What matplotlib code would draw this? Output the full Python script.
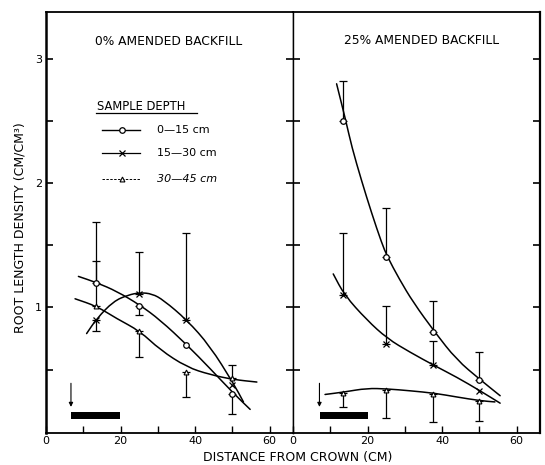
import numpy as np
import matplotlib
matplotlib.use("Agg")
import matplotlib.pyplot as plt
from matplotlib.path import Path
from matplotlib.patches import PathPatch

nan = np.nan

# ---------------- data ----------------
positions = [13.5, 25, 37.5, 50]
depth_labels = ["0\u201415 cm", "15\u201430 cm", "30\u201445 cm"]
panel_titles = ["0% AMENDED BACKFILL", "25% AMENDED BACKFILL"]

# 0 % amended backfill (left)
left_circle = [1.20, 1.01, 0.70, 0.30]
left_cross = [0.90, 1.11, 0.90, 0.38]
left_tri = [1.01, 0.81, 0.48, 0.43]
left_circle_hi = [1.69, nan, nan, nan]
left_circle_lo = [nan, 0.94, nan, 0.14]
left_cross_hi = [nan, 1.45, 1.60, nan]
left_cross_lo = [0.81, nan, nan, nan]
left_tri_hi = [1.37, nan, nan, 0.54]
left_tri_lo = [nan, 0.60, 0.28, nan]

# 25 % amended backfill (right)
right_circle = [2.50, 1.41, 0.80, 0.42]
right_cross = [1.10, 0.71, 0.54, 0.33]
right_tri = [0.31, 0.34, 0.30, 0.25]
right_circle_hi = [2.82, 1.80, 1.05, 0.64]
right_circle_lo = [nan, nan, nan, nan]
right_cross_hi = [1.60, 1.01, 0.73, nan]
right_cross_lo = [nan, nan, nan, nan]
right_tri_hi = [nan, nan, nan, nan]
right_tri_lo = [0.20, 0.11, 0.08, 0.09]

# fitted curves
lc_curve_x = [8.7, 13.6, 19.0, 25.2, 30.6, 37.8, 44.0, 50.3, 54.8]
lc_curve_y = [1.25, 1.20, 1.13, 1.02, 0.90, 0.70, 0.51, 0.31, 0.18]
lx_curve_x = [10.9, 13.6, 18.1, 22.0, 25.2, 28.5, 31.5, 37.8, 44.0, 50.3, 53.0]
lx_curve_y = [0.79, 0.91, 1.05, 1.10, 1.12, 1.11, 1.06, 0.90, 0.69, 0.39, 0.24]
lt_curve_x = [7.8, 13.6, 19.0, 25.2, 30.6, 37.8, 44.0, 50.3, 56.6]
lt_curve_y = [1.07, 1.01, 0.91, 0.81, 0.66, 0.52, 0.46, 0.42, 0.40]

rc_curve_x = [11.7, 14.2, 15.8, 18.4, 21.1, 23.8, 25.3, 28.5, 32.3, 38.1, 43.9, 50.2, 55.6]
rc_curve_y = [2.80, 2.50, 2.29, 2.02, 1.76, 1.52, 1.41, 1.23, 1.04, 0.80, 0.58, 0.42, 0.29]
rx_curve_x = [10.8, 13.8, 19.8, 25.3, 31.4, 38.1, 43.9, 50.2, 55.6]
rx_curve_y = [1.27, 1.10, 0.90, 0.75, 0.64, 0.53, 0.44, 0.33, 0.23]
rt_curve_x = [8.6, 13.8, 19.8, 25.3, 31.4, 38.1, 43.9, 50.2, 54.2]
rt_curve_y = [0.30, 0.32, 0.35, 0.345, 0.33, 0.31, 0.28, 0.25, 0.24]

# trunk-zone bar and arrow
bar_start = [6.7, 7.2]
bar_end = [19.9, 20.2]
arrow_x = [6.7, 7.1]

# ---------------- figure ----------------
plt.rcParams['font.family'] = ['DejaVu Sans']
fig = plt.figure(figsize=(5.45, 4.65), dpi=100)
W, H = 545.0, 465.0
axL = fig.add_axes([46 / W, 32 / H, 247 / W, 421.3 / H])
axR = fig.add_axes([293 / W, 32 / H, 247 / W, 421.3 / H])

mk = {
    'circle': dict(marker='o', ms=4, mfc='white', mec='black', mew=0.9),
    'cross': dict(marker='x', ms=4, mec='black', mew=0.9),
    'tri': dict(marker='^', ms=3.5, mfc='white', mec='black', mew=0.8),
}


def smooth_curve(ax, xs, ys):
    """Draw a smooth quadratic-Bezier path using the read points as guides."""
    pts = list(zip(xs, ys))
    verts = [pts[0]]
    codes = [Path.MOVETO]
    mid = ((pts[0][0] + pts[1][0]) / 2, (pts[0][1] + pts[1][1]) / 2)
    verts.append(mid)
    codes.append(Path.LINETO)
    for k in range(1, len(pts) - 1):
        nxt = ((pts[k][0] + pts[k + 1][0]) / 2, (pts[k][1] + pts[k + 1][1]) / 2)
        verts += [pts[k], nxt]
        codes += [Path.CURVE3, Path.CURVE3]
    verts.append(pts[-1])
    codes.append(Path.LINETO)
    ax.add_patch(PathPatch(Path(verts, codes), fill=False, edgecolor='black',
                           lw=1.1, capstyle='round', zorder=2))


def errbars(ax, xs, ys, hi, lo):
    for x, y, h, l in zip(xs, ys, hi, lo):
        if not np.isnan(h):
            ax.errorbar([x], [y], yerr=[[0], [h - y]], fmt='none', ecolor='black',
                        elinewidth=0.9, capsize=2.6, capthick=0.9)
        if not np.isnan(l):
            ax.errorbar([x], [y], yerr=[[y - l], [0]], fmt='none', ecolor='black',
                        elinewidth=0.9, capsize=2.6, capthick=0.9)


panels = [
    (axL, [(lc_curve_x, lc_curve_y), (lx_curve_x, lx_curve_y), (lt_curve_x, lt_curve_y)],
     [(left_circle, left_circle_hi, left_circle_lo, 'circle'),
      (left_cross, left_cross_hi, left_cross_lo, 'cross'),
      (left_tri, left_tri_hi, left_tri_lo, 'tri')]),
    (axR, [(rc_curve_x, rc_curve_y), (rx_curve_x, rx_curve_y), (rt_curve_x, rt_curve_y)],
     [(right_circle, right_circle_hi, right_circle_lo, 'circle'),
      (right_cross, right_cross_hi, right_cross_lo, 'cross'),
      (right_tri, right_tri_hi, right_tri_lo, 'tri')]),
]

for i, (ax, curves, series) in enumerate(panels):
    for cx, cy in curves:
        smooth_curve(ax, cx, cy)
    for ys, hi, lo, m in series:
        errbars(ax, positions, ys, hi, lo)
        ax.plot(positions, ys, ls='none', zorder=3, **mk[m])
    # bar + arrow
    ax.barh(0.13, bar_end[i] - bar_start[i], left=bar_start[i], height=0.06,
            color='black', zorder=2)
    ax.annotate('', xy=(arrow_x[i], 0.20), xytext=(arrow_x[i], 0.39),
                arrowprops=dict(arrowstyle='-|>', color='black', lw=0.8,
                                shrinkA=0, shrinkB=0, mutation_scale=6))
    ax.set_xlim(0, 66.3)
    ax.set_ylim(-0.01, 3.38)
    ax.set_xticks(np.arange(0, 61, 10))
    ax.set_xticklabels(['0', '', '20', '', '40', '', '60'], fontsize=8)
    ax.set_yticks(np.arange(0.5, 3.01, 0.5))
    ax.tick_params(axis='x', direction='in', length=5, width=1.0, pad=2)
    ax.tick_params(axis='y', direction='in', length=5, width=1.2, pad=3,
                   left=True, right=True)
    for s in ax.spines.values():
        s.set_linewidth(1.3)
        s.set_color('black')

axL.set_yticklabels(['', '1', '', '2', '', '3'], fontsize=8)
axR.set_yticklabels([])
axL.spines['left'].set_linewidth(1.8)
axR.spines['right'].set_linewidth(1.6)
axL.spines['right'].set_linewidth(1.0)
axR.spines['left'].set_linewidth(1.0)

axL.text(32.8, 3.14, panel_titles[0], ha='center', va='center', fontsize=8.8)
axR.text(34.5, 3.15, panel_titles[1], ha='center', va='center', fontsize=8.8)

# legend (manual, like the original)
axL.text(13.6, 2.62, "SAMPLE DEPTH", ha='left', va='center', fontsize=8.3)
axL.plot([13.4, 40.4], [2.565, 2.565], color='black', lw=0.9)
leg_y = [2.43, 2.24, 2.03]
leg_marks = ['circle', 'cross', 'tri']
leg_ls = ['-', '-', (0, (2.5, 1.5))]
leg_lw = [1.0, 0.9, 0.7]
for j in range(3):
    axL.plot([15.0, 25.2], [leg_y[j], leg_y[j]], color='black', lw=leg_lw[j], ls=leg_ls[j])
    axL.plot([20.3], [leg_y[j]], ls='none', **mk[leg_marks[j]])
    axL.text(29.7, leg_y[j], depth_labels[j], ha='left', va='center', fontsize=8.0,
             style='italic' if j == 2 else 'normal')

fig.text(20 / W, 1 - 227.5 / H, "ROOT LENGTH DENSITY (CM/CM\u00b3)", rotation=90,
         ha='center', va='center', fontsize=9.0)
fig.text(297.5 / W, 1 - 457.5 / H, "DISTANCE FROM CROWN (CM)", ha='center', va='center',
         fontsize=9.0)

fig.savefig("out.png", dpi=100)
